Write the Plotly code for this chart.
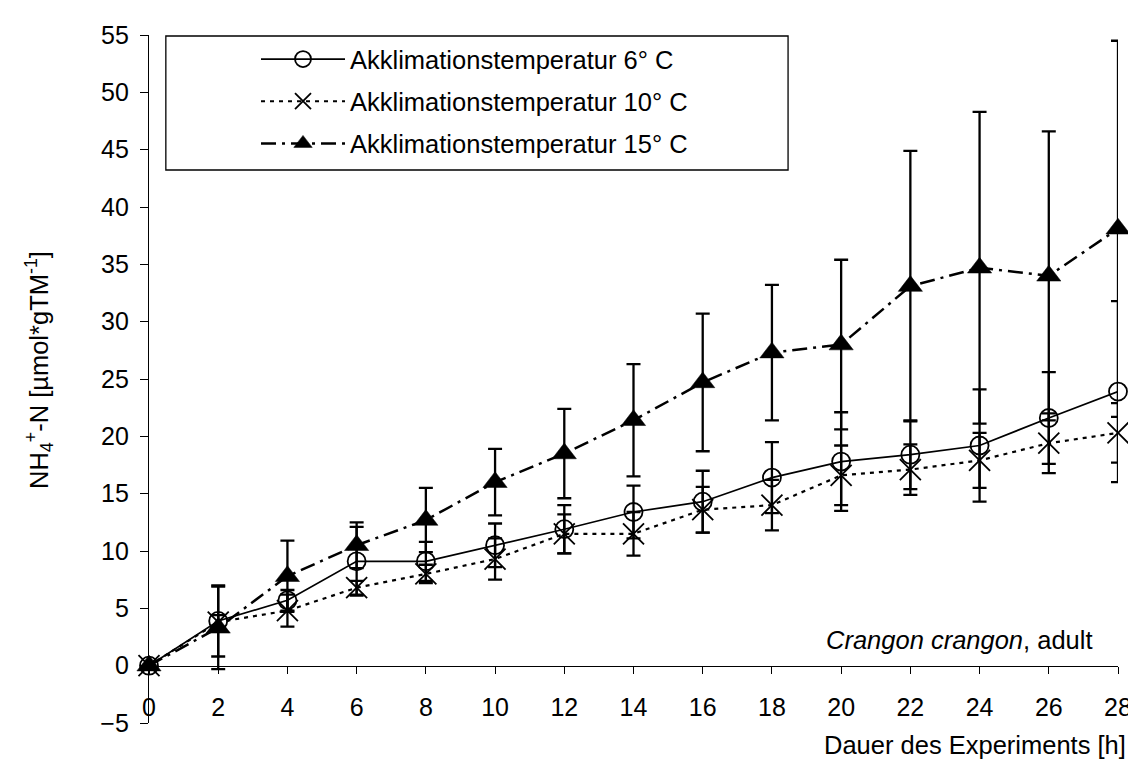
import plotly.graph_objects as go

hours = [0, 2, 4, 6, 8, 10, 12, 14, 16, 18, 20, 22, 24, 26, 28]

t6_mean = [0, 3.9, 5.7, 9.1, 9.1, 10.5, 11.9, 13.4, 14.3, 16.4, 17.8, 18.4, 19.2, 21.6, 23.9]
t6_err = [0, 3.1, 0.9, 3.0, 1.7, 1.9, 2.1, 2.3, 2.7, 3.1, 4.3, 3.0, 4.9, 4.0, 7.9]

t10_mean = [0, 3.8, 4.8, 6.8, 8.0, 9.3, 11.5, 11.5, 13.6, 14.0, 16.6, 17.1, 17.9, 19.4, 20.3]
t10_err = [0, 0.6, 1.4, 0.6, 0.8, 1.8, 1.7, 1.9, 2.0, 2.2, 2.6, 2.2, 2.4, 2.6, 2.6]

t15_mean = [0, 3.3, 7.8, 10.5, 12.7, 16.0, 18.5, 21.4, 24.7, 27.3, 28.0, 33.1, 34.7, 34.0, 38.1]
t15_err = [0, 3.6, 3.1, 2.0, 2.8, 2.9, 3.9, 4.9, 6.0, 5.9, 7.4, 11.8, 13.6, 12.6, 16.4]

names = ["Akklimationstemperatur 6° C", "Akklimationstemperatur 10° C", "Akklimationstemperatur 15° C"]

FONT = "Liberation Sans, Arial, sans-serif"
FS = 25
FS_TXT = 25.5

W, H = 1136, 761
L, R, T, B = 141, 17, 27, 46
PW, PH = W - L - R, H - T - B


def px(x):
    return (x - L) / PW


def py(y):
    return (H - B - y) / PH


def ebar(arr):
    return dict(type="data", array=arr, symmetric=True, color="black", thickness=2.3, width=7)


fig = go.Figure()
fig.add_trace(go.Scatter(
    x=hours, y=t6_mean, name=names[0], mode="lines+markers", legendgroup="a",
    line=dict(color="black", width=1.7, dash="solid"),
    marker=dict(symbol="circle-open", size=18, color="black", line=dict(width=1.8, color="black")),
    error_y=ebar(t6_err), cliponaxis=False))
fig.add_trace(go.Scatter(
    x=hours, y=t10_mean, name=names[1], mode="lines+markers", legendgroup="b",
    line=dict(color="black", width=2.2, dash="4px,5px"),
    marker=dict(symbol="x-thin-open", size=21, color="black", line=dict(width=1.8, color="black")),
    error_y=ebar(t10_err), cliponaxis=False))
fig.add_trace(go.Scatter(
    x=hours, y=t15_mean, name=names[2], mode="lines+markers", legendgroup="c",
    line=dict(color="black", width=2.5, dash="15px,6px,3px,6px"),
    marker=dict(symbol="triangle-up", size=21, color="black", line=dict(width=0.5, color="black")),
    error_y=ebar(t15_err), cliponaxis=False))

fig.update_layout(
    width=W, height=H,
    margin=dict(l=L, r=R, t=T, b=B),
    paper_bgcolor="white", plot_bgcolor="white",
    font=dict(family=FONT, size=FS, color="black"),
    showlegend=True,
    legend=dict(
        x=px(249), y=py(28), xanchor="left", yanchor="top",
        bgcolor="rgba(0,0,0,0)", borderwidth=0,
        font=dict(family=FONT, size=FS_TXT, color="black"),
        itemwidth=84, tracegroupgap=6, traceorder="grouped",
    ),
    xaxis=dict(
        range=[0, 28], dtick=2, tick0=0, showgrid=False, zeroline=False,
        showline=True, linecolor="black", linewidth=1.3,
        ticks="outside", ticklen=7, tickcolor="black", tickwidth=1.3,
        anchor="free", position=5 / 60, ticklabelstandoff=12,
        tickfont=dict(family=FONT, size=FS, color="black"),
    ),
    yaxis=dict(
        range=[-5, 55], dtick=5, tick0=0, showgrid=False, zeroline=False,
        showline=True, linecolor="black", linewidth=1.3,
        ticks="outside", ticklen=8, tickcolor="black", tickwidth=1.3,
        ticklabelstandoff=6,
        tickfont=dict(family=FONT, size=FS, color="black"),
    ),
    shapes=[dict(type="rect", xref="paper", yref="paper",
                 x0=px(158), x1=px(786), y0=py(162), y1=py(28),
                 line=dict(color="black", width=1.3), fillcolor="rgba(0,0,0,0)", layer="above")],
    annotations=[
        dict(text="<i>Crangon crangon</i>, adult", xref="paper", yref="paper",
             x=px(1096), y=py(632), xanchor="right", yanchor="middle", showarrow=False,
             font=dict(family=FONT, size=FS_TXT, color="black")),
        dict(text="Dauer des Experiments [h]", xref="paper", yref="paper",
             x=px(1129), y=py(737), xanchor="right", yanchor="middle", showarrow=False,
             font=dict(family=FONT, size=FS_TXT, color="black")),
        dict(text="NH<sub>4</sub><sup>+</sup>-N [µmol*gTM<sup>-1</sup>]", xref="paper", yref="paper",
             x=px(30), y=py(362), xanchor="center", yanchor="middle", showarrow=False, textangle=-90,
             font=dict(family=FONT, size=FS_TXT, color="black")),
    ],
)

fig.write_html("out.html")
